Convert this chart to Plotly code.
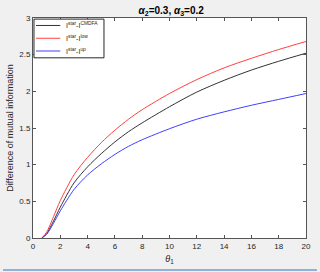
import plotly.graph_objects as go

theta = [0.65, 1, 1.5, 2, 3, 4, 5, 6, 7, 8, 10, 12, 14, 16, 18, 20]
cmdfa = [0, 0.06, 0.23, 0.42, 0.75, 0.97, 1.15, 1.31, 1.45, 1.57, 1.79, 1.99, 2.15, 2.29, 2.41, 2.52]
low = [0, 0.08, 0.29, 0.51, 0.86, 1.10, 1.30, 1.47, 1.62, 1.75, 1.97, 2.16, 2.32, 2.45, 2.57, 2.68]
up = [0, 0.05, 0.20, 0.37, 0.66, 0.86, 1.01, 1.14, 1.25, 1.34, 1.49, 1.62, 1.72, 1.81, 1.89, 1.97]

names = ["I<sup>star</sup>-I<sup>CMDFA</sup>", "I<sup>star</sup>-I<sup>low</sup>", "I<sup>star</sup>-I<sup>up</sup>"]
colors = ["#333333", "#ff4040", "#4040ff"]

fig = go.Figure()
for ys, nm, c in zip([cmdfa, low, up], names, colors):
    fig.add_trace(go.Scatter(x=theta, y=ys, mode="lines", name=nm, showlegend=False,
                             line=dict(color=c, width=1, shape="spline", smoothing=0.8)))

# compact MATLAB-style legend box
shapes = [dict(type="rect", xref="paper", yref="paper", x0=0.0036, x1=0.26, y0=0.819, y1=0.995,
               fillcolor="white", line=dict(color="#262626", width=1), layer="above")]
annotations = []
leg_y = [0.966, 0.908, 0.850]
for nm, c, yy in zip(names, colors, leg_y):
    shapes.append(dict(type="line", xref="paper", yref="paper", x0=0.011, x1=0.10, y0=yy, y1=yy,
                       line=dict(color=c, width=1), layer="above"))
    annotations.append(dict(xref="paper", yref="paper", x=0.112, y=yy, xanchor="left", yanchor="middle",
                            text=nm, showarrow=False, font=dict(size=7, color="#262626")))
shapes.append(dict(type="line", xref="paper", yref="paper", x0=-0.11, x1=1.04, y0=-0.145, y1=-0.145,
                   line=dict(color="#6a9fd4", width=1.5)))

axcol = "#555555"
fig.update_layout(
    width=320, height=272,
    paper_bgcolor="#f0f0f0", plot_bgcolor="white",
    margin=dict(l=30, r=9, t=18, b=33),
    font=dict(family="Liberation Sans, Arial, sans-serif", size=8, color="#262626"),
    title=dict(text="<b><i>α</i><sub>2</sub>=0.3, <i>α</i><sub>3</sub>=0.2</b>",
               x=0.535, xanchor="center", y=0.975, yanchor="top",
               font=dict(size=10, color="#000000")),
    showlegend=False,
    xaxis=dict(range=[0, 20], tickvals=list(range(0, 21, 2)), ticks="inside", ticklen=3,
               tickcolor=axcol, showline=True, linecolor=axcol, mirror="ticks",
               showgrid=False, zeroline=False,
               title=dict(text="<i>θ</i><sub>1</sub>", standoff=6, font=dict(size=9))),
    yaxis=dict(range=[0, 3], tickvals=[0, 0.5, 1, 1.5, 2, 2.5, 3], ticktext=["0", "0.5", "1", "1.5", "2", "2.5", "3"],
               ticks="inside", ticklen=3,
               tickcolor=axcol, showline=True, linecolor=axcol, mirror="ticks",
               showgrid=False, zeroline=False,
               title=dict(text="Difference of mutual information", standoff=4, font=dict(size=9))),
    shapes=shapes,
    annotations=annotations,
)

fig.write_html("out.html", config={"displayModeBar": False},
               post_script="document.body.style.margin='0';document.body.style.background='#f0f0f0';")
